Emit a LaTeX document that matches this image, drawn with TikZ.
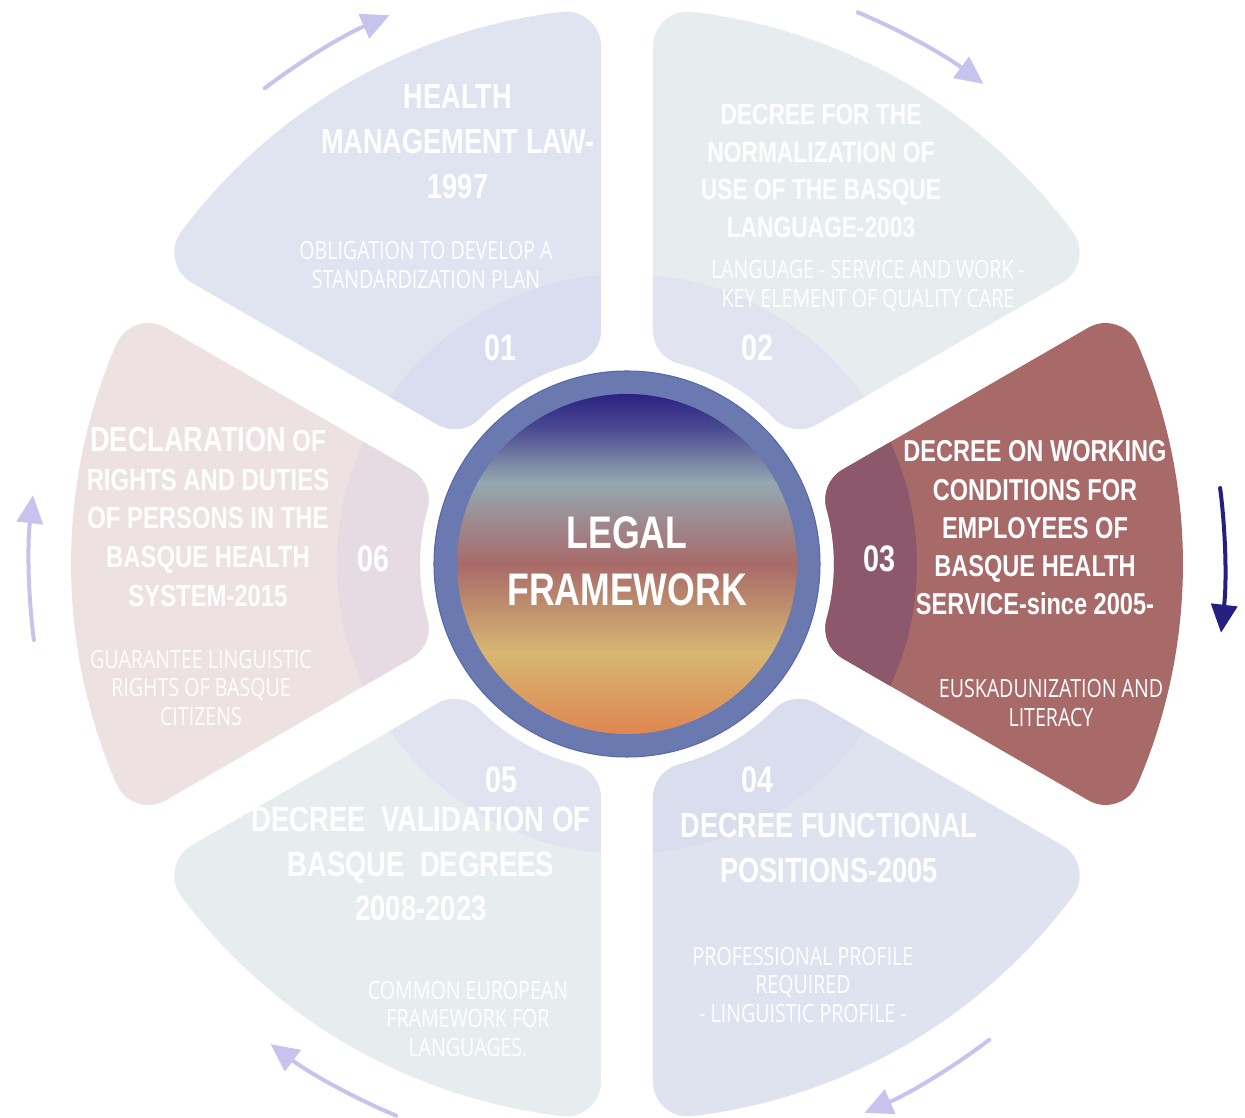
\documentclass[tikz,border=0pt]{standalone}
\usepackage{fontspec}
\usetikzlibrary{arrows.meta}
\newfontfamily\headfont[FakeStretch=0.78]{Liberation Sans}
\newfontfamily\notefont[FakeStretch=0.78]{Open Sans}
\definecolor{petalA}{HTML}{E0E4F0}
\definecolor{bandA}{HTML}{DADDEF}
\definecolor{petalB}{HTML}{E7EDEF}
\definecolor{bandB}{HTML}{E1E4F0}
\definecolor{petalC}{HTML}{A86A69}
\definecolor{bandC}{HTML}{8E586C}
\definecolor{petalD}{HTML}{DFE3F0}
\definecolor{bandD}{HTML}{DADDEE}
\definecolor{petalE}{HTML}{E7EDEE}
\definecolor{bandE}{HTML}{E1E3F0}
\definecolor{petalF}{HTML}{EDE1E2}
\definecolor{bandF}{HTML}{E6DAE3}
\definecolor{lilac}{HTML}{C8C3EC}
\definecolor{navy}{HTML}{25207F}
\definecolor{ringblue}{HTML}{6A79AF}
\definecolor{ringedge}{HTML}{5668A8}
\definecolor{hubtop}{HTML}{2B2183}
\definecolor{hubteal}{HTML}{94A8B1}
\definecolor{hubrose}{HTML}{A86A69}
\definecolor{hubgold}{HTML}{D7B772}
\definecolor{hubfoot}{HTML}{DF8650}
\pgfdeclareverticalshading{legalshade}{100bp}{color(0bp)=(hubfoot); color(25bp)=(hubfoot);
  color(37bp)=(hubgold); color(50bp)=(hubrose); color(62bp)=(hubteal); color(70bp)=(hubtop!70!hubteal);
  color(75bp)=(hubtop); color(100bp)=(hubtop)}
% sector shrunk by the corner radius; stroked round it gives the rounded petal
\newcommand\petalcore[1]{({#1-30+asin(61/242)}:242) -- ({#1-30+asin(61/521)}:521)
  arc[start angle={#1-30+asin(61/521)}, end angle={#1+30-asin(61/521)}, radius=521]
  -- ({#1+30-asin(61/242)}:242)
  arc[start angle={#1+30-asin(61/242)}, end angle={#1-30+asin(61/242)}, radius=242] -- cycle}
\begin{document}
\begin{tikzpicture}[x=0.02cm, y=0.02cm,
    petal/.style={line width=1.4cm, line join=round},
    title/.style={text=white, align=center, inner sep=0pt, font=\headfont\bfseries},
    note/.style={text=white, align=center, inner sep=0pt, font=\notefont\fontsize{14.3}{16.2}\selectfont},
    num/.style={text=white, inner sep=0pt, font=\headfont\bfseries\fontsize{21}{25}\selectfont},
    turn/.style={line width=0.08cm, line cap=round, -{Triangle[length=0.56cm, width=0.52cm]}}]
  \useasboundingbox (-627,-554) rectangle (618,564);
  % petals with their inner bands
  \foreach \a/\base/\band in {120/petalA/bandA, 60/petalB/bandB, 0/petalC/bandC,
      -60/petalD/bandD, -120/petalE/bandE, 180/petalF/bandF}{
    \filldraw[petal, \base] \petalcore{\a};
    \begin{scope}
      \clip (0,0) circle (290);
      \filldraw[petal, \band] \petalcore{\a};
    \end{scope}
  }
  % turning arrows
  \foreach \a/\c in {120/lilac, 60/lilac, 0/navy, -60/lilac, -120/lilac, 180/lilac}
    \draw[turn, \c] ({\a+7.3}:598) arc[start angle={\a+7.3}, end angle={\a-6.6}, radius=598];
  % hub
  \fill[ringblue, draw=ringedge, line width=0.6pt] (0,0) circle (193);
  \shade[shading=legalshade] (0,0) circle (170);
  \node[title, font=\headfont\bfseries\fontsize{26}{32.3}\selectfont] (legal) at (0,3) {LEGAL\\FRAMEWORK};
  % numbers
  \node[num] (n01) at (-126,216) {01};
  \node[num] (n02) at (131,216) {02};
  \node[num] (n03) at (253,5) {03};
  \node[num] (n04) at (131,-216) {04};
  \node[num] (n05) at (-125,-216) {05};
  \node[num] (n06) at (-253,5) {06};
  % titles
  \node[title, font=\headfont\bfseries\fontsize{19.8}{25.5}\selectfont] (law) at (-169,422)
    {HEALTH\\MANAGEMENT LAW-\\1997};
  \node[title, font=\headfont\bfseries\fontsize{16.6}{21.5}\selectfont] (norm) at (194,393)
    {DECREE FOR THE\\NORMALIZATION OF\\USE OF THE BASQUE\\LANGUAGE-2003};
  \node[title, font=\headfont\bfseries\fontsize{17.2}{21.8}\selectfont] (work) at (408,36)
    {DECREE ON WORKING\\CONDITIONS FOR\\EMPLOYEES OF\\BASQUE HEALTH\\SERVICE-since 2005-};
  \node[title, font=\headfont\bfseries\fontsize{19.8}{25.5}\selectfont] (posts) at (202,-284)
    {DECREE FUNCTIONAL\\POSITIONS-2005};
  \node[title, font=\headfont\bfseries\fontsize{20}{25.2}\selectfont] (degrees) at (-206,-300)
    {DECREE\ \ VALIDATION OF\\BASQUE\ \ DEGREES\\2008-2023};
  \node[title, font=\headfont\bfseries\fontsize{17.4}{22}\selectfont] (rights) at (-419,47)
    {{\fontsize{19.8}{22}\selectfont DECLARATION} OF\\RIGHTS AND DUTIES\\OF PERSONS IN THE\\BASQUE HEALTH\\SYSTEM-2015};
  % notes
  \node[note] (lawnote) at (-201,299) {OBLIGATION TO DEVELOP A\\STANDARDIZATION PLAN};
  \node[note] (normnote) at (241,278) {LANGUAGE - SERVICE AND WORK -\\KEY ELEMENT OF QUALITY CARE};
  \node[note] (worknote) at (424,-139) {EUSKADUNIZATION AND\\LITERACY};
  \node[note] (postsnote) at (176,-421) {PROFESSIONAL PROFILE\\REQUIRED\\- LINGUISTIC PROFILE -};
  \node[note] (degreesnote) at (-159,-455) {COMMON EUROPEAN\\FRAMEWORK FOR\\LANGUAGES.};
  \node[note] (rightsnote) at (-426,-124) {GUARANTEE LINGUISTIC\\RIGHTS OF BASQUE\\CITIZENS};
\end{tikzpicture}
\end{document}
